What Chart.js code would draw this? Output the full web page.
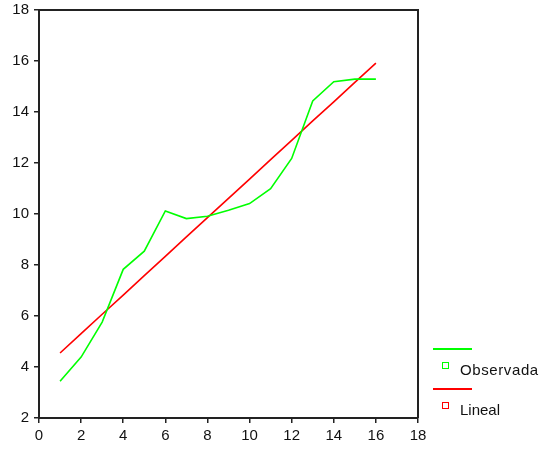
<!DOCTYPE html>
<html>
<head>
<meta charset="utf-8">
<script src="https://cdn.jsdelivr.net/npm/chart.js@4/dist/chart.umd.min.js"></script>
<style>
html,body{margin:0;padding:0;background:#fff;}
#wrap{position:relative;width:543px;height:450px;}
canvas{position:absolute;left:0;top:0;}
.lg{position:absolute;font-family:"Liberation Sans",Arial,sans-serif;font-size:15px;color:#111;line-height:16px;}
.ln{position:absolute;height:2px;}
.sq{position:absolute;width:5px;height:5px;border:1.5px solid;}
</style>
</head>
<body>
<div id="wrap">
<canvas id="c" width="543" height="450"></canvas>
<div class="ln" style="left:433px;top:348px;width:39px;background:#00ff00"></div>
<div class="sq" style="left:442px;top:362px;border-color:#00ff00"></div>
<div class="lg" style="left:460px;top:362px;letter-spacing:0.6px">Observada</div>
<div class="ln" style="left:433px;top:388px;width:39px;background:#ff0000"></div>
<div class="sq" style="left:442px;top:402px;border-color:#ff0000"></div>
<div class="lg" style="left:460px;top:402px">Lineal</div>
</div>
<script>
const xValues = [1,2,3,4,5,6,7,8,9,10,11,12,13,14,15,16];
const observada = [3.44,4.39,5.76,7.83,8.54,10.12,9.82,9.91,10.15,10.41,10.99,12.18,14.43,15.19,15.29,15.29];
const lineal = [4.55,5.31,6.07,6.82,7.58,8.34,9.10,9.86,10.61,11.37,12.13,12.89,13.65,14.40,15.16,15.92];
const seriesNames = ["Observada","Lineal"];

const boxPlugin = {
  id:'box',
  afterDraw(chart){
    const {ctx, chartArea:a} = chart;
    ctx.save();
    ctx.strokeStyle='#222';
    ctx.lineWidth=2;
    ctx.beginPath();
    ctx.moveTo(a.left,a.top);ctx.lineTo(a.right,a.top);ctx.lineTo(a.right,a.bottom);
    ctx.stroke();
    ctx.restore();
  }
};

new Chart(document.getElementById('c'),{
  type:'line',
  data:{
    datasets:[
      {label:seriesNames[0],data:xValues.map((x,i)=>({x:x,y:observada[i]})),borderColor:'#00ff00',borderWidth:1.6,pointRadius:0,tension:0,fill:false},
      {label:seriesNames[1],data:xValues.map((x,i)=>({x:x,y:lineal[i]})),borderColor:'#ff0000',borderWidth:1.6,pointRadius:0,tension:0,fill:false}
    ]
  },
  options:{
    responsive:false,animation:false,
    layout:{padding:{top:10,right:125,left:0,bottom:0}},
    plugins:{legend:{display:false},tooltip:{enabled:false}},
    scales:{
      x:{type:'linear',min:0,max:18,
        afterFit(s){s.height=32;s.paddingRight=0;s.paddingLeft=0;},
        ticks:{stepSize:2,color:'#111',padding:4,font:{family:'"Liberation Sans", Arial, sans-serif',size:15}},
        grid:{drawOnChartArea:false,tickLength:5,color:'#222',lineWidth:1.5},
        border:{display:true,color:'#222',width:2}},
      y:{type:'linear',min:2,max:18,
        afterFit(s){s.width=39;s.paddingTop=0;s.paddingBottom=0;},
        ticks:{stepSize:2,color:'#111',padding:5,font:{family:'"Liberation Sans", Arial, sans-serif',size:15}},
        grid:{drawOnChartArea:false,tickLength:5,color:'#222',lineWidth:1.5},
        border:{display:true,color:'#222',width:2}}
    }
  },
  plugins:[boxPlugin]
});
</script>
</body>
</html>
